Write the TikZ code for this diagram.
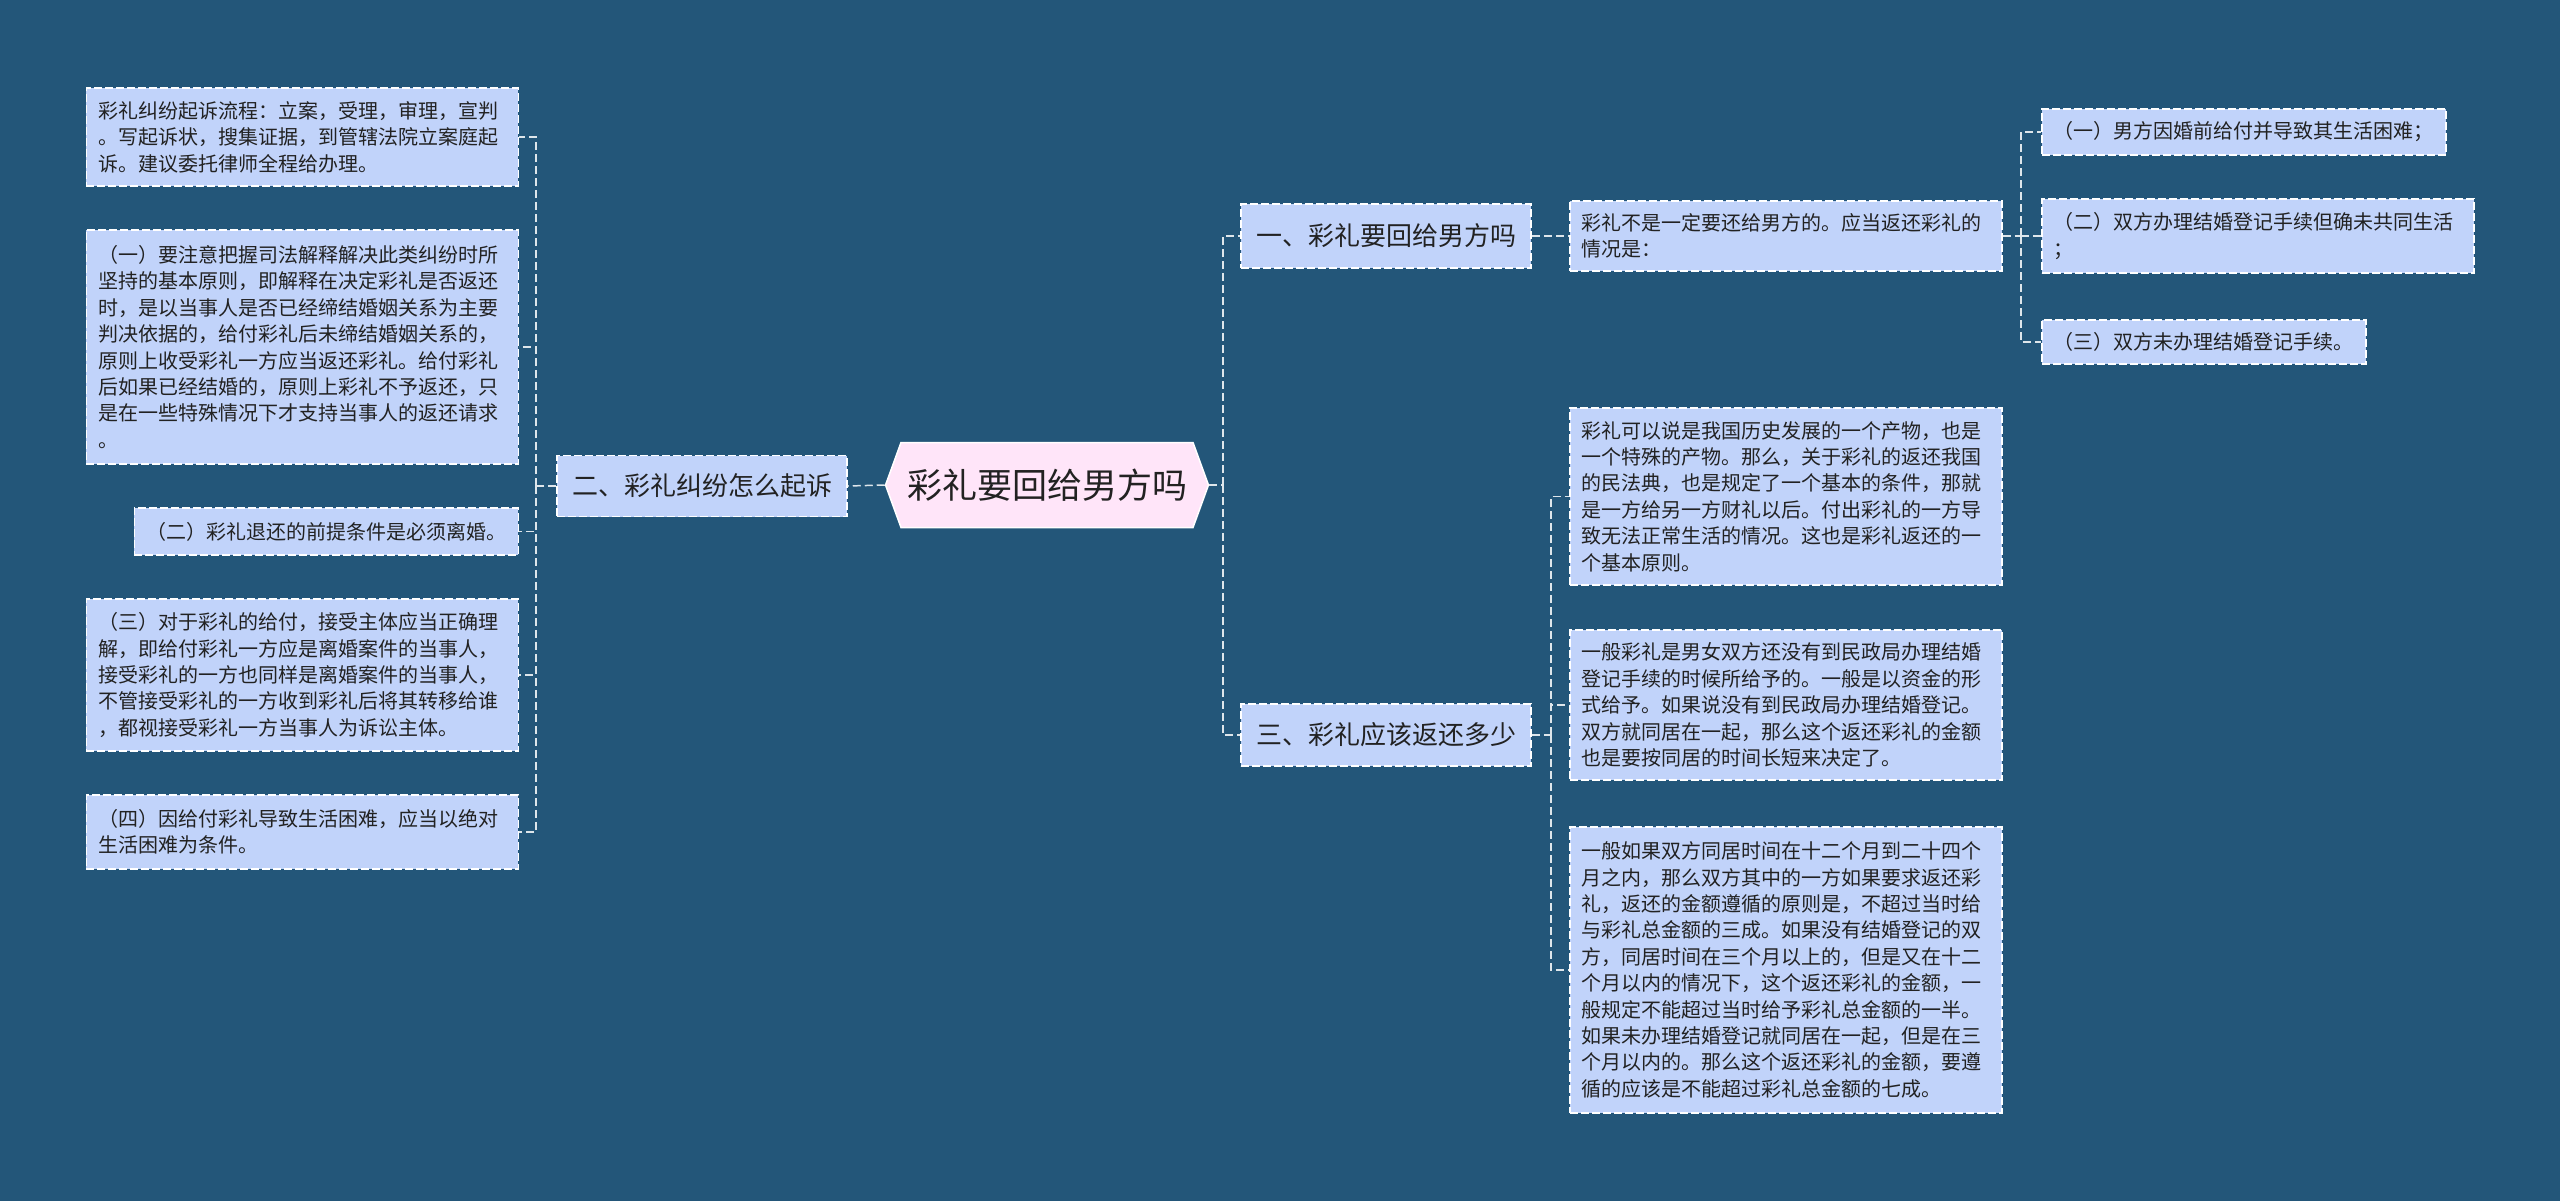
\documentclass[tikz,border=0pt]{standalone}
\usepackage{fontspec}
\setmainfont{Noto Sans CJK SC}
\usetikzlibrary{shapes.symbols}
\definecolor{bgblue}{RGB}{35,86,121}
\definecolor{boxblue}{RGB}{193,211,250}
\definecolor{rootpink}{RGB}{255,229,249}
\definecolor{inkgray}{RGB}{34,34,34}
\tikzset{every picture/.style={line width=0.75pt}}
\tikzset{
  leafbox/.style={draw=white, dash pattern=on 4pt off 1.5pt, fill=boxblue, text=inkgray,
    font=\fontsize{10pt}{13.2pt}\selectfont, inner xsep=6pt, inner ysep=4pt, align=left},
  branchbox/.style={draw=white, dash pattern=on 4pt off 1.5pt, fill=boxblue, text=inkgray,
    font=\fontsize{13pt}{15pt}\selectfont, inner xsep=7pt, minimum width=145pt},
  rootbox/.style={signal, signal to=east and west, signal pointer angle=140, draw=white,
    fill=rootpink, text=inkgray, font=\fontsize{17.5pt}{20pt}\selectfont,
    inner xsep=3pt, minimum height=42.5pt},
  link/.style={draw=white!85!bgblue, dash pattern=on 4pt off 2pt, line width=0.75pt}
}
\begin{document}
\begin{tikzpicture}[x=0.5pt,y=0.5pt,yscale=-1,xscale=1]
\fill[bgblue] (0,0) rectangle (2560,1201);
\useasboundingbox (0,0) rectangle (2560,1201);

% Root
\node (root) [rootbox] at (1047,485) {彩礼要回给男方吗};

% Branch nodes
\node (sue) [branchbox, minimum height=30.5pt] at (702,486) {二、彩礼纠纷怎么起诉};
\node (back) [branchbox, minimum height=32pt] at (1386,236) {一、彩礼要回给男方吗};
\node (much) [branchbox, minimum height=31pt] at (1386,735) {三、彩礼应该返还多少};

% Left leaves
\node (flow) [leafbox, anchor=east, text width=204pt, minimum height=49pt] at (519,137)
  {彩礼纠纷起诉流程：立案，受理，审理，宣判\\。写起诉状，搜集证据，到管辖法院立案庭起\\诉。建议委托律师全程给办理。};
\node (rule) [leafbox, anchor=east, text width=204pt, minimum height=117pt] at (519,347)
  {（一）要注意把握司法解释解决此类纠纷时所\\坚持的基本原则，即解释在决定彩礼是否返还\\时，是以当事人是否已经缔结婚姻关系为主要\\判决依据的，给付彩礼后未缔结婚姻关系的，\\原则上收受彩礼一方应当返还彩礼。给付彩礼\\后如果已经结婚的，原则上彩礼不予返还，只\\是在一些特殊情况下才支持当事人的返还请求\\。};
\node (divorce) [leafbox, anchor=east, minimum height=23.5pt] at (519,531.5)
  {（二）彩礼退还的前提条件是必须离婚。};
\node (party) [leafbox, anchor=east, text width=204pt, minimum height=76pt] at (519,675)
  {（三）对于彩礼的给付，接受主体应当正确理\\解，即给付彩礼一方应是离婚案件的当事人，\\接受彩礼的一方也同样是离婚案件的当事人，\\不管接受彩礼的一方收到彩礼后将其转移给谁\\，都视接受彩礼一方当事人为诉讼主体。};
\node (hard) [leafbox, anchor=east, text width=204pt, minimum height=37pt] at (519,832)
  {（四）因给付彩礼导致生活困难，应当以绝对\\生活困难为条件。};

% Right leaves, branch one
\node (cases) [leafbox, anchor=west, text width=204pt, minimum height=35pt] at (1569,236)
  {彩礼不是一定要还给男方的。应当返还彩礼的\\情况是：};
\node (caseA) [leafbox, anchor=west, minimum height=23pt] at (2041,132)
  {（一）男方因婚前给付并导致其生活困难；};
\node (caseB) [leafbox, anchor=west, text width=204pt, minimum height=37pt] at (2041,236)
  {（二）双方办理结婚登记手续但确未共同生活\\；};
\node (caseC) [leafbox, anchor=west, minimum height=22pt] at (2041,342)
  {（三）双方未办理结婚登记手续。};

% Right leaves, branch three
\node (origin) [leafbox, anchor=west, text width=204pt, minimum height=88.5pt] at (1569,496.5)
  {彩礼可以说是我国历史发展的一个产物，也是\\一个特殊的产物。那么，关于彩礼的返还我国\\的民法典，也是规定了一个基本的条件，那就\\是一方给另一方财礼以后。付出彩礼的一方导\\致无法正常生活的情况。这也是彩礼返还的一\\个基本原则。};
\node (cohabit) [leafbox, anchor=west, text width=204pt, minimum height=75pt] at (1569,705)
  {一般彩礼是男女双方还没有到民政局办理结婚\\登记手续的时候所给予的。一般是以资金的形\\式给予。如果说没有到民政局办理结婚登记。\\双方就同居在一起，那么这个返还彩礼的金额\\也是要按同居的时间长短来决定了。};
\node (ratio) [leafbox, anchor=west, text width=204pt, minimum height=143pt] at (1569,970)
  {一般如果双方同居时间在十二个月到二十四个\\月之内，那么双方其中的一方如果要求返还彩\\礼，返还的金额遵循的原则是，不超过当时给\\与彩礼总金额的三成。如果没有结婚登记的双\\方，同居时间在三个月以上的，但是又在十二\\个月以内的情况下，这个返还彩礼的金额，一\\般规定不能超过当时给予彩礼总金额的一半。\\如果未办理结婚登记就同居在一起，但是在三\\个月以内的。那么这个返还彩礼的金额，要遵\\循的应该是不能超过彩礼总金额的七成。};

% Bus points
\coordinate (lbus) at (536,486);
\coordinate (rbus) at (1223,485);
\coordinate (cbus) at (2021,236);
\coordinate (mbus) at (1551,735);

% Connectors
\draw [link] (root.west) -- (sue.east);
\draw [link] (sue.west) -- (lbus);
\foreach \leaf in {flow,rule,divorce,party,hard}
  \draw [link] (lbus) |- (\leaf.east);
\draw [link] (root.east) -- (rbus);
\draw [link] (rbus) |- (back.west);
\draw [link] (rbus) |- (much.west);
\draw [link] (back.east) -- (cases.west);
\draw [link] (cases.east) -- (cbus);
\foreach \leaf in {caseA,caseB,caseC}
  \draw [link] (cbus) |- (\leaf.west);
\draw [link] (much.east) -- (mbus);
\foreach \leaf in {origin,cohabit,ratio}
  \draw [link] (mbus) |- (\leaf.west);

\end{tikzpicture}
\end{document}
